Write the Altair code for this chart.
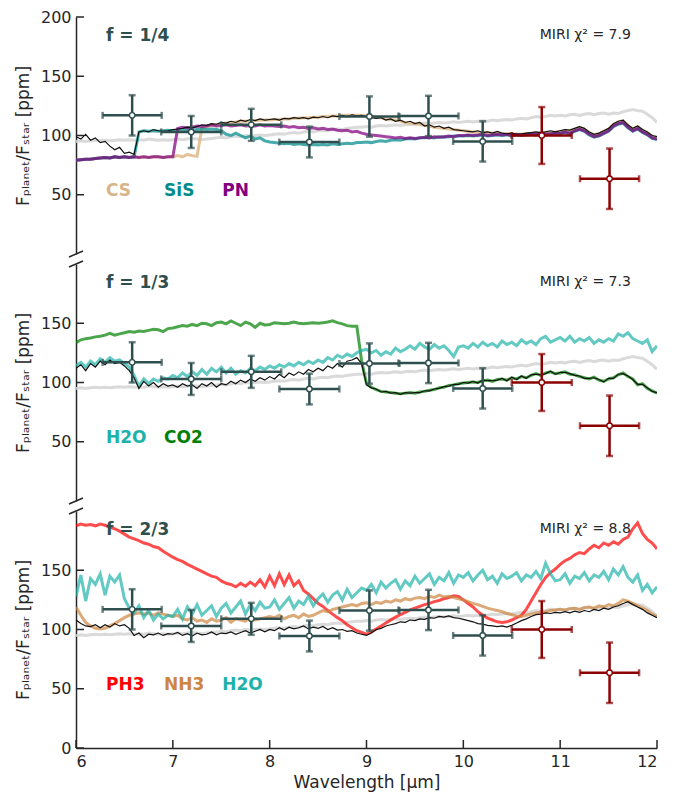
import altair as alt
import pandas as pd

# ---------------- data ----------------
WL = [round(6 + 0.05 * i, 2) for i in range(121)]

GRAY = [
    95, 95.5, 95, 95.5, 96, 95.5, 96, 95.5, 96, 96.5, 96, 96.5, 96, 96.5, 96, 97, 96.5, 96, 96.5, 96,
    96.5, 97, 96.5, 97, 97.5, 97, 96.5, 97, 97.5, 98, 98.5, 98, 99, 99.5, 99, 100, 99.5, 100, 100.5, 100,
    100.5, 101, 101.5, 101, 102, 102.5, 102, 103, 103.5, 103, 104, 104.5, 104, 105, 105.5, 105, 106, 106.5, 107, 107,
    107.5, 107, 108, 108.5, 108, 108.5, 109, 108.5, 109, 109.5, 109, 110, 110.5, 110, 110.5, 111, 110.5, 111, 111.5, 111,
    111.5, 112, 111.5, 112, 112.5, 112, 113, 112.5, 113, 113.5, 113, 114, 114.5, 114, 115, 116, 115.5, 116, 117, 116.5,
    117, 116.5, 117.5, 118, 117, 118, 118.5, 117.5, 118.5, 119, 118, 119, 118.5, 120, 121, 122, 121, 120.5, 118, 115,
    111]

# f = 1/4
TOP_BLACK = [
    99, 97, 101, 96, 98, 94, 95, 91, 88, 90, 85, 86, 84, 103, 104, 103, 105, 104, 103.5, 104,
    105, 105.5, 106, 107, 106.5, 107.5, 109, 108.5, 110, 109.5, 111, 110.5, 112, 111, 113, 112, 113.5, 112.5, 114, 113,
    113.5, 114, 113, 114.5, 114, 115, 114.5, 115, 114, 115.5, 115, 116, 115, 116.5, 116, 117, 116, 117.5, 116.5, 117,
    116, 115, 114.5, 115, 113, 114, 112, 113, 111, 112, 110, 111, 108, 109, 107, 108, 106, 107, 105, 104.5,
    104, 103.5, 103, 104, 102.5, 103, 102, 103.5, 102, 101.5, 102, 101, 101.5, 102, 102.5, 103, 102.5, 103, 104, 103,
    104, 105, 104.5, 106, 107.5, 106, 103, 101, 102, 104, 106, 110, 112, 113, 109, 106, 108, 105, 103, 100,
    99]
TOP_CS = [
    79, 79.5, 80, 80, 80.5, 81, 81.5, 81, 82, 81.5, 82, 81.5, 82, 81.5, 82, 81.5, 82, 82, 81.5, 82,
    82, 83, 82, 84, 83, 82.5, 106, 107.5, 108.5, 109, 110, 110.5, 111, 111.5, 112, 112, 112.5, 112.5, 113, 113,
    113, 113.5, 113.5, 114, 114, 114.5, 114.5, 115, 115, 115.5, 115.5, 116, 116, 116.5, 116.5, 117, 117, 117, 117, 117,
    116.5, 116, 115.5, 115, 114, 113.5, 113, 112, 111, 110.5, 110, 109.5, 108.5, 108, 107, 106.5, 106, 105.5, 105, 104.5,
    104, 103.5, 103, 103, 102.5, 102.5, 102, 102, 101.5, 101.5, 101.5, 101, 101, 101.5, 101.5, 102, 102, 102.5, 102.5, 103,
    103.5, 104.5, 104, 105.5, 107, 105.5, 102.5, 100.5, 101.5, 103.5, 105.5, 109.5, 111.5, 112.5, 108.5, 105.5, 107.5, 104.5, 102.5, 99.5,
    98.5]
TOP_SIS = [
    79, 79.5, 80, 80, 80.5, 81, 81.5, 81, 82, 81.5, 82, 81.5, 82, 103, 104, 103.5, 104, 103.5, 104, 104.5,
    104, 104.5, 104, 105, 104.5, 105, 105.5, 105, 105.5, 105, 104, 101, 100, 102, 100, 98, 99.5, 97, 98, 95.5,
    94.5, 94, 93.5, 93, 93.5, 92.5, 93, 92.5, 92, 92.5, 92, 92.5, 92, 93, 92.5, 93, 93.5, 93, 94, 94,
    94.5, 94, 95, 95.5, 95, 96, 96.5, 96, 97, 97.5, 97, 98, 98, 98.5, 98, 99, 98.5, 99, 99.5, 99.5,
    99.5, 100, 99.5, 100, 100.5, 99.5, 100, 100.5, 100, 100.5, 99.5, 100.5, 100, 100.5, 101, 100.5, 101.5, 100.5, 101, 101.5,
    101.5, 102.5, 101.5, 103.5, 105, 103.5, 100.5, 98.5, 99.5, 101.5, 103.5, 107.5, 109.5, 110.5, 106.5, 103.5, 105.5, 102.5, 100.5, 97.5,
    96.5]
TOP_PN = [
    79, 79.5, 80, 80, 80.5, 81, 81.5, 81, 82, 81.5, 82, 81.5, 82, 81.5, 82, 81.5, 82, 82, 81.5, 82,
    82, 106, 107, 106.5, 107, 108, 107.5, 108, 109, 108, 108.5, 109, 108, 108.5, 109, 108, 108.5, 108, 109, 108,
    108.5, 108, 107.5, 108, 107, 107.5, 106.5, 107, 106, 106.5, 105.5, 106, 105, 105.5, 104.5, 104, 104.5, 103, 103.5, 102,
    101, 100.5, 100, 99.5, 99, 98.5, 98, 98.5, 97.5, 98, 97.5, 98, 98.5, 98, 99, 98.5, 99, 99.5, 99, 100,
    100, 100.5, 100, 100.5, 101, 100, 100.5, 101, 100.5, 101, 100, 101, 100.5, 101, 101.5, 101, 102, 101, 101.5, 102,
    102, 103, 102, 104, 105.5, 104, 101, 99, 100, 102, 104, 108, 110, 111, 107, 104, 106, 103, 101, 98,
    97]

# f = 1/3
MID_BLACK = [
    112, 115, 110, 116, 113, 118, 115, 119, 116, 117, 114, 110, 104, 95, 101, 97, 100, 96, 99, 97,
    98, 96, 99, 97, 98, 95, 99, 97, 100, 96, 99, 98, 101, 99, 102, 100, 103, 101, 104, 102,
    105, 103, 107, 104, 108, 106, 109, 107, 111, 109, 112, 110, 114, 112, 116, 113, 118, 119, 121, 116,
    98, 95.5, 94.5, 92, 92.5, 91, 91.5, 90, 91.5, 91, 91.5, 91.5, 93, 93, 94.5, 95, 96.5, 97, 98.5, 98.5,
    100, 99.5, 101, 99.5, 102, 101.5, 101.5, 102, 103.5, 101.5, 104.5, 102.5, 105.5, 103.5, 106.5, 107, 106.5, 107.5, 109.5, 107,
    108.5, 108.5, 107.5, 106, 105.5, 103.5, 103.5, 104, 102.5, 100.5, 103.5, 103.5, 107, 107.5, 105.5, 102.5, 98.5, 98.5, 95.5, 92.5,
    91.5]
MID_H2O = [
    114, 117, 113, 118, 115, 120, 117, 121, 118, 119, 116, 113, 106, 97, 103, 99, 103, 101, 104, 103,
    106, 104, 108, 105, 109, 106, 111, 107, 112, 109, 113, 108, 112, 107, 110, 108, 112, 110, 113, 111,
    114, 112, 115, 113, 116, 114, 117, 115, 118, 116, 119, 117, 121, 119, 123, 121, 124, 122, 125, 127,
    128, 125, 127, 123, 126, 124, 129, 126, 128, 131, 128, 133, 130, 128, 132, 129, 131, 127, 122, 130,
    131, 129, 133, 130, 134, 131, 133, 130, 135, 132, 134, 131, 136, 133, 135, 132, 137, 139, 134, 136,
    138, 135, 139, 134, 137, 135, 138, 133, 136, 134, 137, 135, 141, 139, 142, 137, 135, 133, 136, 126,
    131]
MID_CO2 = [
    133.5, 136, 137, 137.5, 138.5, 139, 140, 141.5, 140, 141, 142, 143, 142.5, 143.5, 143, 144, 145, 144.5, 143, 145.5,
    146, 147, 148, 147.5, 149, 148, 150, 149.5, 148, 150.5, 151, 149.5, 152, 150, 148, 151, 149.5, 146.5, 150, 148.5,
    149, 150.5, 150, 149.5, 150, 151, 150, 149.5, 150, 150.5, 150, 150.5, 151, 152, 150.5, 149.5, 148, 147.5, 147.5, 118,
    99, 96, 94, 92.5, 92, 91.5, 91, 90.5, 91, 91.5, 91, 92, 92.5, 93.5, 94, 95.5, 96, 97.5, 98, 99,
    99.5, 100, 100.5, 100, 101.5, 102, 101, 102.5, 103, 102, 104, 103, 105, 104, 106, 107.5, 106, 108, 109, 107.5,
    108, 109, 107, 106.5, 105, 104, 103, 104.5, 102, 101, 103, 104, 106.5, 108, 105, 103, 98, 99, 95, 93,
    91]

# f = 2/3
BOT_BLACK = [
    108, 105, 103, 102.5, 104, 101.5, 104, 102, 105, 103, 104, 101, 95, 97, 93, 96, 95.5, 97, 95, 96.5,
    96, 97.5, 95, 96.5, 94.5, 97, 95.5, 96, 98, 95.5, 97, 96.5, 98, 96, 97.5, 99, 97, 98.5, 100, 98,
    100, 99, 101.5, 99.5, 102, 100.5, 101.5, 103, 100.5, 102, 101, 102.5, 100, 101.5, 99.5, 100, 98.5, 99, 97, 96,
    95, 97, 100, 101, 103, 104, 105, 106.5, 106, 108, 107.5, 109, 108.5, 110, 109.5, 111, 110.5, 111.5, 110, 109.5,
    108.5, 107.5, 106.5, 105, 104.5, 103.5, 103, 102.5, 103, 102, 103.5, 105.5, 107.5, 109, 111, 112.5, 113, 114, 113.5, 114.5,
    114, 115, 114, 115.5, 114.5, 116, 115, 117, 116, 118, 117, 119, 120, 122, 123.5, 121, 119, 117, 114, 112,
    110]
BOT_PH3 = [
    187.5, 189, 188, 188.5, 187.5, 189, 188, 186.5, 185, 183, 180.5, 178, 176.5, 175, 173, 172, 170, 169, 166, 163.5,
    161, 159, 157.5, 155, 153, 151, 149, 147, 145, 144, 141, 139, 138, 136, 139, 136.5, 140, 137, 142, 136,
    145, 137, 147, 138, 146, 137, 141, 133, 130, 126, 122, 119.5, 116, 113, 110, 107.5, 104, 101.5, 99, 97.5,
    96, 98, 100.5, 103, 105.5, 108, 110.5, 112.5, 114.5, 116.5, 118, 119.5, 121, 122, 123.5, 124.5, 126, 127, 128.5, 128,
    125, 122, 119, 115, 112, 109.5, 108, 106.5, 106, 106.5, 108, 110, 112, 117, 124, 131, 138, 144, 148, 151,
    155, 158, 160, 163, 165, 164, 168, 171, 169, 173, 171, 174, 172, 176, 178, 185, 190, 181, 176, 173,
    168]
BOT_NH3 = [
    119, 112, 106, 103, 101, 100.5, 101, 103, 105, 107.5, 110, 112, 113, 114, 113, 114, 112, 114, 113, 112,
    111, 112, 109, 108, 110, 107, 108, 106, 109, 107, 108, 110, 106, 109, 108, 107, 110, 108, 109, 110,
    111, 110, 112, 109, 111, 112, 110, 113, 111, 112, 114, 116, 115, 117, 118, 119, 120, 121, 120, 122,
    122.5, 121, 123, 122, 124, 123, 125, 124, 126, 125, 126.5, 127, 126, 128, 127, 129, 127.5, 128, 127, 126,
    125, 123.5, 122, 121, 119.5, 118, 117, 116, 115, 113.5, 112.5, 111.5, 111, 112, 113, 114, 114.5, 115, 116, 116.5,
    117, 116.5, 117.5, 118, 117, 118.5, 119, 118, 120, 119, 121, 120, 122, 125, 124, 122, 120, 118, 116, 113,
    111]
BOT_H2O = [
    128, 146, 124, 143, 138, 147, 129, 145, 140, 146, 126, 118, 114, 120, 110, 116, 108, 113, 109, 112,
    111, 117, 109, 119, 113, 121, 112, 116, 120, 111, 118, 122, 114, 119, 124, 113, 121, 116, 123, 118,
    119, 125, 117, 122, 127, 118, 124, 121, 128, 120, 126, 130, 123, 129, 132, 125, 134, 127, 131, 135,
    133, 138, 131, 140, 135, 139, 142, 134, 141, 137, 145, 139, 143, 147, 138, 144, 141, 148, 139, 146,
    144, 148, 141, 146, 150, 142, 145, 139, 147, 143, 145, 148, 141, 146, 144, 149, 143, 156, 147, 141,
    142, 147, 139, 145, 143, 148, 141, 146, 144, 149, 142, 151, 146, 153, 144, 140, 146, 133, 138, 131,
    136]

for _s in [GRAY, TOP_BLACK, TOP_CS, TOP_SIS, TOP_PN, MID_BLACK, MID_H2O, MID_CO2,
           BOT_BLACK, BOT_PH3, BOT_NH3, BOT_H2O]:
    assert len(_s) == len(WL), len(_s)

# photometric points
PT_WL = [6.58, 7.19, 7.81, 8.41, 9.03, 9.64, 10.20, 10.81, 11.51]
PT_WL_ERR = [0.305, 0.31, 0.31, 0.31, 0.31, 0.31, 0.305, 0.31, 0.305]
PT_FLUX = [117, 103, 109, 94.5, 116, 116.5, 95, 100, 63.5]
PT_FLUX_ERR = [17, 13.5, 13.5, 13, 17, 17, 17, 24, 25.5]
PT_SET = ["A", "A", "A", "A", "A", "A", "A", "B", "B"]

PANEL_LABELS = ["f = 1/4", "f = 1/3", "f = 2/3"]
PANEL_CHI2 = ["MIRI χ² = 7.9", "MIRI χ² = 7.3", "MIRI χ² = 8.8"]
Y_TICKS = [[50, 100, 150, 200], [50, 100, 150], [0, 50, 100, 150]]
X_TICKS = [6, 7, 8, 9, 10, 11, 12]

# ---------------- style ----------------
FONT = "DejaVu Sans"
AX = "#262626"
SLATE = "#2F4F4F"
SET_COLORS = {"A": "#2F4F4F", "B": "#8B0000"}
W, H = 581, 237
XS = alt.Scale(domain=[6, 12], nice=False, zero=False)
YS = alt.Scale(domain=[0, 200], nice=False, zero=False)
YTITLE = "F\u209a\u2097\u2090\u2099\u2091\u209c/F\u209b\u209c\u2090\u1d63 [ppm]"
LABEL_WL = [6.31, 6.91, 7.51]

# (name, values, line colour, opacity, label colour)
SPECIES = [
    [("CS", TOP_CS, "#DEB887", 0.85, "#D8B48A"),
     ("SiS", TOP_SIS, "#008B8B", 0.72, "#008B8B"),
     ("PN", TOP_PN, "#800080", 0.72, "#800080")],
    [("CO2", MID_CO2, "#008000", 0.7, "#008000"),
     ("H2O", MID_H2O, "#20B2AA", 0.7, "#20B2AA")],
    [("PH3", BOT_PH3, "#FF0000", 0.7, "#FF0000"),
     ("NH3", BOT_NH3, "#CD853F", 0.7, "#CD853F"),
     ("H2O", BOT_H2O, "#20B2AA", 0.7, "#20B2AA")],
]
LABEL_ORDER = [["CS", "SiS", "PN"], ["H2O", "CO2"], ["PH3", "NH3", "H2O"]]
BLACKS = [TOP_BLACK, MID_BLACK, BOT_BLACK]
BREAKS = [["bottom"], ["top", "bottom"], ["top"]]

pts = pd.DataFrame({
    "wl": PT_WL,
    "lo": [w - e for w, e in zip(PT_WL, PT_WL_ERR)],
    "hi": [w + e for w, e in zip(PT_WL, PT_WL_ERR)],
    "flux": PT_FLUX,
    "flo": [f - e for f, e in zip(PT_FLUX, PT_FLUX_ERR)],
    "fhi": [f + e for f, e in zip(PT_FLUX, PT_FLUX_ERR)],
    "hue": [SET_COLORS[s] for s in PT_SET],
})


def make_panel(idx):
    show_x = idx == 2
    yaxis = alt.Axis(values=Y_TICKS[idx], title=YTITLE, ticks=False, tickSize=0,
                     labelPadding=5, grid=False, labelFontSize=16, titleFontSize=17,
                     titleFontWeight="normal", titlePadding=8, domainColor=AX,
                     domainWidth=1.5, labelColor=AX, titleColor=AX,
                     labelFont=FONT, titleFont=FONT)
    if show_x:
        xaxis = alt.Axis(values=X_TICKS, format="d", title="Wavelength [μm]", ticks=False,
                         tickSize=0, labelPadding=5, grid=False, labelFontSize=16,
                         titleFontSize=17, titleFontWeight="normal", titlePadding=5,
                         domainColor=AX, domainWidth=1.5, labelColor=AX, titleColor=AX,
                         labelFont=FONT, titleFont=FONT)
        X = lambda f: alt.X(f, type="quantitative", scale=XS, axis=xaxis)
    else:
        X = lambda f: alt.X(f, type="quantitative", scale=XS, axis=None)
    Y = lambda f: alt.Y(f, type="quantitative", scale=YS, axis=yaxis)

    layers = []
    # reference (grey) spectrum
    layers.append(alt.Chart(pd.DataFrame({"wl": WL, "flux": GRAY})).mark_line(
        color="#D3D3D3", strokeWidth=3, opacity=0.85, clip=True).encode(x=X("wl"), y=Y("flux")))
    for name, vals, col, op, _ in SPECIES[idx]:
        layers.append(alt.Chart(pd.DataFrame({"wl": WL, "flux": vals})).mark_line(
            color=col, strokeWidth=3, opacity=op, clip=True).encode(x=X("wl"), y=Y("flux")))
    layers.append(alt.Chart(pd.DataFrame({"wl": WL, "flux": BLACKS[idx]})).mark_line(
        color="#111111", strokeWidth=1.2, clip=True).encode(x=X("wl"), y=Y("flux")))

    # error bars
    base = alt.Chart(pts)
    col = alt.Color("hue:N", scale=None)
    layers.append(base.mark_rule(strokeWidth=2.5).encode(
        x=X("lo"), x2=alt.X2("hi"), y=Y("flux"), color=col))
    layers.append(base.mark_rule(strokeWidth=2.5).encode(
        x=X("wl"), y=Y("flo"), y2=alt.Y2("fhi"), color=col))
    for fy in ["flo", "fhi"]:
        layers.append(base.mark_tick(orient="horizontal", size=7, thickness=2.5).encode(
            x=X("wl"), y=Y(fy), color=col))
    for fx in ["lo", "hi"]:
        layers.append(base.mark_tick(orient="vertical", size=7, thickness=2.5).encode(
            x=X(fx), y=Y("flux"), color=col))
    layers.append(base.mark_circle(fill="white", fillOpacity=1, opacity=1, size=30,
                                   strokeWidth=1.4).encode(
        x=X("wl"), y=Y("flux"), stroke=alt.Stroke("hue:N", scale=None)))

    # texts
    layers.append(alt.Chart(pd.DataFrame({"wl": [6.31], "flux": [184], "t": [PANEL_LABELS[idx]]}))
                  .mark_text(align="left", baseline="middle", fontSize=17, fontWeight="bold",
                             color=SLATE, font=FONT)
                  .encode(x=X("wl"), y=Y("flux"), text="t:N"))
    layers.append(alt.Chart(pd.DataFrame({"wl": [11.73], "flux": [185], "t": [PANEL_CHI2[idx]]}))
                  .mark_text(align="right", baseline="middle", fontSize=14, color=AX, font=FONT)
                  .encode(x=X("wl"), y=Y("flux"), text="t:N"))
    lab_col = {n: lc for n, _, _, _, lc in SPECIES[idx]}
    for k, name in enumerate(LABEL_ORDER[idx]):
        layers.append(alt.Chart(pd.DataFrame({"wl": [LABEL_WL[k]], "flux": [53], "t": [name]}))
                      .mark_text(align="left", baseline="middle", fontSize=17, fontWeight="bold",
                                 color=lab_col[name], font=FONT)
                      .encode(x=X("wl"), y=Y("flux"), text="t:N"))

    # inward ticks
    layers.append(alt.Chart(pd.DataFrame({"v": Y_TICKS[idx]})).mark_rule(
        color=AX, strokeWidth=1.5).encode(y=Y("v"), x=alt.value(0), x2=alt.value(8)))
    if show_x:
        layers.append(alt.Chart(pd.DataFrame({"v": X_TICKS})).mark_rule(
            color=AX, strokeWidth=1.5).encode(x=X("v"), y=alt.value(H), y2=alt.value(H - 8)))

    # axis break marks
    one = pd.DataFrame({"k": [0]})
    for where in BREAKS[idx]:
        yb = H if where == "bottom" else 0
        layers.append(alt.Chart(one).mark_rule(color=AX, strokeWidth=1.5).encode(
            x=alt.value(-7), x2=alt.value(7), y=alt.value(yb + 3), y2=alt.value(yb - 3)))

    return alt.layer(*layers).properties(width=W, height=H)


chart = alt.vconcat(make_panel(0), make_panel(1), make_panel(2),
                    spacing=10, bounds="flush").properties(
    padding={"left": 5, "top": 0, "right": 5, "bottom": 2}
).configure(font=FONT).configure_view(stroke="transparent")

chart.save("out.html", embed_options={"renderer": "svg", "actions": False})
